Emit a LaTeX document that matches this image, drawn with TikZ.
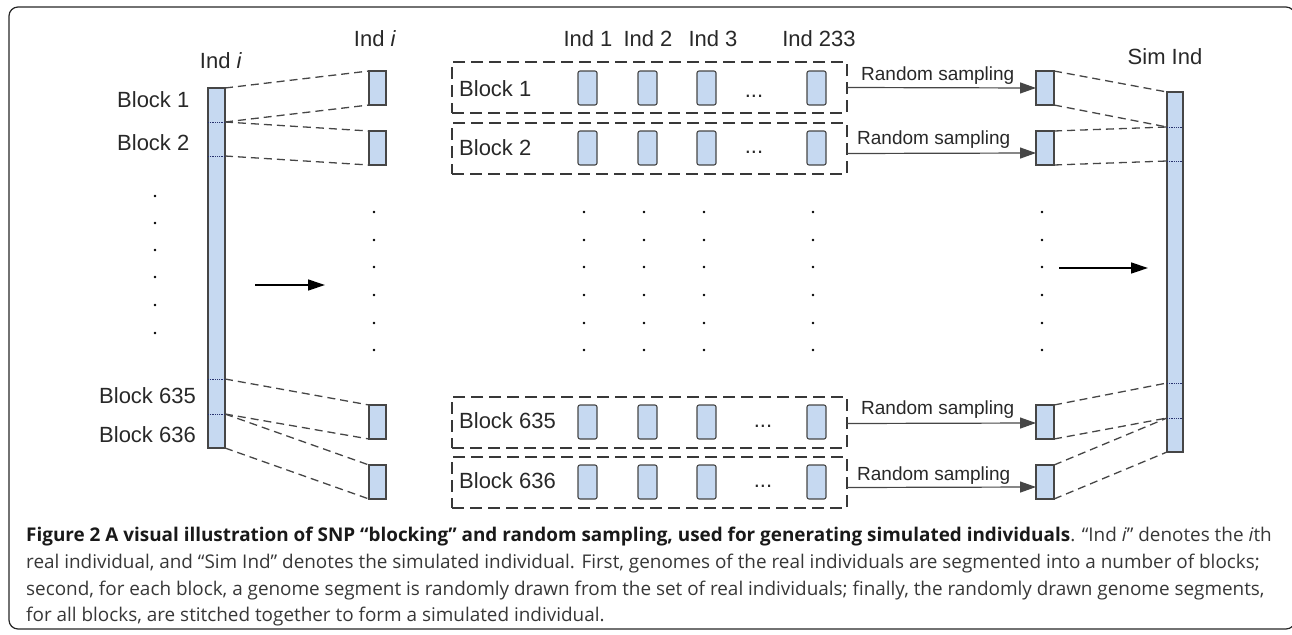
\documentclass[tikz,border=0pt]{standalone}
\usepackage{fontspec}
\setmainfont{Liberation Sans}
\newfontfamily\capfont{Open Sans}
\usetikzlibrary{arrows.meta,calc}
\definecolor{boxfill}{RGB}{198,217,241}
\definecolor{edge}{RGB}{70,70,70}
\definecolor{txt}{RGB}{40,40,40}
\definecolor{divc}{RGB}{40,50,110}
\definecolor{capbold}{RGB}{25,25,25}
\definecolor{capbody}{RGB}{55,55,55}
\tikzset{
 bar/.style={draw=edge, fill=boxfill, line width=1.1pt, inner sep=0pt, outer sep=0pt, minimum width=17pt, anchor=north west},
 seg/.style={draw=edge, fill=boxfill, line width=1.1pt, inner sep=0pt, outer sep=0pt, minimum width=17pt, minimum height=34pt, anchor=north west},
 indbox/.style={draw=edge, fill=boxfill, line width=1.1pt, inner sep=0pt, outer sep=0pt, minimum width=19pt, minimum height=34pt, rounded corners=2pt, anchor=north west},
 blockbox/.style={draw=edge!80!black, line width=1.8pt, dash pattern=on 12pt off 6pt, inner sep=0pt, outer sep=0pt, minimum width=395pt, minimum height=51pt, anchor=north west},
 lbl/.style={font=\fontsize{22}{26}\selectfont, text=txt, inner sep=0pt},
 rlbl/.style={font=\fontsize{19}{22}\selectfont, text=txt, inner sep=0pt, anchor=base west},
 link/.style={draw=edge, line width=1.3pt, dash pattern=on 8pt off 5pt},
 divider/.style={draw=divc, line width=0.8pt, densely dotted},
 pointer/.style={draw=black, line width=1.3pt, -{Triangle[length=17pt,width=11pt]}},
 sampler/.style={draw=edge, line width=1.2pt, -{Triangle[length=16pt,width=11pt]}},
 captext/.style={font=\capfont\fontsize{18.9}{21}\selectfont, text=capbody, inner sep=0pt, anchor=base west},
}
\begin{document}
\begin{tikzpicture}[x=1pt,y=-1pt]
\useasboundingbox (0,0) rectangle (1292,634);
% frame
\draw[line width=1.2pt, draw=black!85, rounded corners=9pt] (9,7) rectangle (1295,629);

% left bar
\node[bar, minimum height=360pt] (lbar) at (208,88) {};
\coordinate (la) at (225,122);
\coordinate (lb) at (225,156);
\coordinate (lc) at (225,379);
\coordinate (ld) at (225,414);
\foreach \p in {la,lb,lc,ld} \draw[divider] (lbar.west |- \p) -- (\p);

% column of single segments
\node[seg] (i1) at (369,71) {};
\node[seg] (i2) at (369,131) {};
\node[seg] (i635) at (369,405) {};
\node[seg] (i636) at (369,465) {};
\draw[link] (lbar.north east) -- (i1.north west);
\draw[link] (la) -- (i1.south west);
\draw[link] (la) -- (i2.north west);
\draw[link] (lb) -- (i2.south west);
\draw[link] (lc) -- (i635.north west);
\draw[link] (ld) -- (i635.south west);
\draw[link] (ld) -- (i636.north west);
\draw[link] (lbar.south east) -- (i636.south west);

% block boxes
\node[blockbox] (k1) at (452,62) {};
\node[blockbox] (k2) at (452,123) {};
\node[blockbox] (k635) at (452,397) {};
\node[blockbox] (k636) at (452,457) {};
\foreach \r/\y in {1/71,2/131,635/405,636/465}{
  \foreach \c/\x in {a/578,b/638,c/697,d/807}{
    \node[indbox] (u\r\c) at (\x,\y) {};
  }
}
\node[lbl, anchor=base west] (kl1) at (459,96) {Block 1};
\node[lbl, anchor=base west] (kl2) at (459,155) {Block 2};
\node[lbl, anchor=base west] (kl635) at (459,428) {Block 635};
\node[lbl, anchor=base west] (kl636) at (459,488) {Block 636};
\node[lbl, anchor=base] (e1) at (754,97) {...};
\node[lbl, anchor=base] (e2) at (754,153) {...};
\node[lbl, anchor=base] (e635) at (763,427) {...};
\node[lbl, anchor=base] (e636) at (763,487) {...};

% sampled segments
\node[seg, minimum width=18pt] (s1) at (1036,71) {};
\node[seg, minimum width=18pt] (s2) at (1036,131) {};
\node[seg, minimum width=18pt] (s635) at (1036,405) {};
\node[seg, minimum width=18pt] (s636) at (1036,465) {};
\draw[sampler] (k1.east) -- (s1.west);
\draw[sampler] ([yshift=-5pt]k2.east) -- ([yshift=-5pt]s2.west);
\draw[sampler] ([yshift=-1pt]k635.east) -- ([yshift=-1pt]s635.west);
\draw[sampler] ([yshift=-5pt]k636.east) -- ([yshift=-5pt]s636.west);
\node[rlbl] (t1) at (861,80) {Random sampling};
\node[rlbl] (t2) at (857,144) {Random sampling};
\node[rlbl] (t635) at (861,414) {Random sampling};
\node[rlbl] (t636) at (857,480) {Random sampling};

% simulated individual
\node[bar, minimum width=16pt, minimum height=360pt] (sbar) at (1167,92) {};
\coordinate (sa) at (1167,127);
\coordinate (sb) at (1167,161);
\coordinate (sc) at (1167,383);
\coordinate (sd) at (1167,418);
\foreach \p in {sa,sb,sc,sd} \draw[divider] (\p) -- (sbar.east |- \p);
\draw[link] (s1.north east) -- (sbar.north west);
\draw[link] (s1.south east) -- (sa);
\draw[link] (s2.north east) -- (sa);
\draw[link] (s2.south east) -- (sb);
\draw[link] (s635.north east) -- (sc);
\draw[link] (s635.south east) -- (sd);
\draw[link] (s636.north east) -- (sd);
\draw[link] (s636.south east) -- (sbar.south west);

% pointer arrows
\coordinate (p1) at (255,285);
\coordinate (p2) at (325,285);
\draw[pointer] (p1) -- (p2);
\coordinate (q1) at (1059,268);
\coordinate (q2) at (1148,268);
\draw[pointer] (q1) -- (q2);

% headings
\node[lbl, anchor=base] (h0) at (221,69) {Ind \textit{i}};
\node[lbl, anchor=base] (h1) at (375,47) {Ind \textit{i}};
\node[lbl, anchor=base] (h2) at (588,47) {Ind 1};
\node[lbl, anchor=base] (h3) at (648,47) {Ind 2};
\node[lbl, anchor=base] (h4) at (713,47) {Ind 3};
\node[lbl, anchor=base] (h5) at (819,47) {Ind 233};
\node[lbl, anchor=base] (h6) at (1165,65) {Sim Ind};

% left labels
\node[lbl, anchor=base west] (b1) at (117,107) {Block 1};
\node[lbl, anchor=base west] (b2) at (117,150) {Block 2};
\node[lbl, anchor=base west] (b635) at (99,403) {Block 635};
\node[lbl, anchor=base west] (b636) at (99,442) {Block 636};

% vertical ellipsis dots
\foreach \y in {196,223,250,277,305,333} \fill[black] (155,\y) circle (1.3pt);
\foreach \x in {374,584,644,704,813,1042}{
  \foreach \y in {212,240,267,295,323,350} \fill[black] (\x,\y) circle (1.3pt);
}

% caption
\node[captext] (c1) at (26,541) {{\bfseries\color{capbold}Figure 2 A visual illustration of SNP “blocking” and random sampling, used for generating simulated individuals}. “Ind \textit{i}” denotes the \textit{i}th};
\node[captext] (c2) at (26,568) {real individual, and “Sim Ind” denotes the simulated individual. First, genomes of the real individuals are segmented into a number of blocks;};
\node[captext] (c3) at (26,595) {second, for each block, a genome segment is randomly drawn from the set of real individuals; finally, the randomly drawn genome segments,};
\node[captext] (c4) at (26,621) {for all blocks, are stitched together to form a simulated individual.};
\end{tikzpicture}
\end{document}
